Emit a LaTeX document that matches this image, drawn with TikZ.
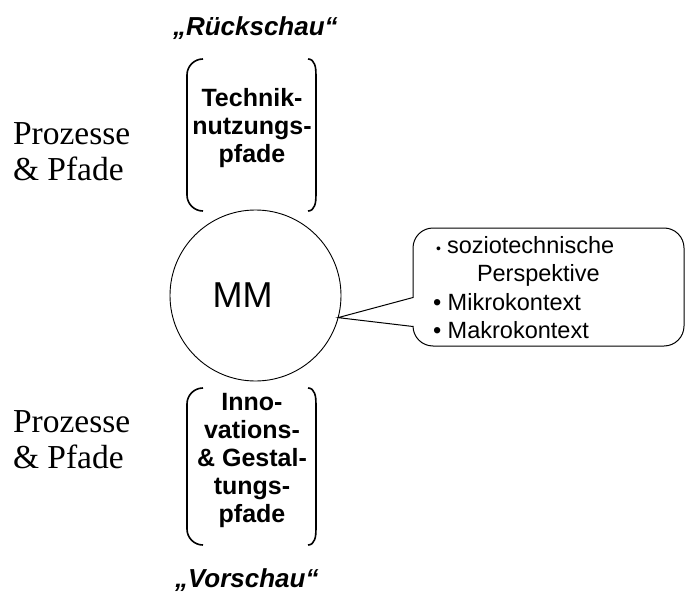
\documentclass[tikz,border=0pt]{standalone}
\usepackage{fontspec}
\setmainfont{Liberation Sans}
\newfontfamily\prozessfont{Liberation Serif}
\begin{document}
\begin{tikzpicture}[x=1pt, y=-1pt]
\tikzstyle{every node} = [inner sep=0pt, outer sep=0pt]
\tikzstyle{bracketbox} = [minimum width=129pt]
\tikzstyle{bracketline} = [line width=1.6pt]
\tikzstyle{pathtext} = [align=center, anchor=north, font=\fontsize{25}{28}\selectfont\bfseries]
\tikzstyle{prozess} = [align=left, anchor=north west, font=\prozessfont\fontsize{33.5}{36}\selectfont]
\tikzstyle{quote} = [anchor=base west, font=\fontsize{26}{30}\selectfont\bfseries\itshape]
\useasboundingbox (0,0) rectangle (685,599);
\node[quote] (rueck) at (173, 36) {„Rückschau“};
\node[bracketbox, minimum height=152pt] (upper) at (251.5, 135) {};
\node[pathtext] (technik) at (252, 88) {Technik-\\nutzungs-\\pfade};
\node[prozess] (prozessoben) at (13, 122.5) {Prozesse\\\& Pfade};
\node[circle, draw, line width=0.9pt, minimum size=171pt] (mm) at (255.5, 295.5) {};
\node[font=\fontsize{36}{40}\selectfont] (mmtext) at (242.5, 295.5) {MM};
\node[minimum width=271pt, minimum height=118pt] (bubble) at (548.5, 287) {};
\node[align=left, anchor=north west, font=\fontsize{23.5}{28.5}\selectfont] (kontext) at (433, 236)
  {\makebox[14pt][l]{\hspace{3pt}\fontsize{14}{14}\selectfont\textbullet}soziotechnische\\
   \hspace*{44pt}Perspektive\\
   \textbullet{} Mikrokontext\\
   \textbullet{} Makrokontext};
\node[bracketbox, minimum height=157pt] (lower) at (251.5, 466.5) {};
\node[pathtext] (innovation) at (252, 393) {Inno-\\vations-\\\& Gestal-\\tungs-\\pfade};
\node[prozess] (prozessunten) at (13, 411) {Prozesse\\\& Pfade};
\node[quote] (vor) at (175, 587) {„Vorschau“};
% Klammern um die Pfade
\foreach \b in {upper, lower} {
  \draw[bracketline] ([xshift=16pt]\b.north west) to[out=180, in=90] ([yshift=-16pt]\b.north west)
    -- ([yshift=16pt]\b.south west) to[out=-90, in=180] ([xshift=16pt]\b.south west);
  \draw[bracketline] ([xshift=-8pt]\b.north east) to[out=0, in=90] ([yshift=-16pt]\b.north east)
    -- ([yshift=16pt]\b.south east) to[out=-90, in=0] ([xshift=-8pt]\b.south east);
}
% Sprechblase
\draw[line width=1pt] (mm.-15) -- ([yshift=-10.5pt]bubble.west) [rounded corners=20pt]
  -- (bubble.north west) -- (bubble.north east) -- (bubble.south east) -- (bubble.south west)
  [sharp corners] -- ([yshift=-39.5pt]bubble.west) -- cycle;
\end{tikzpicture}
\end{document}
